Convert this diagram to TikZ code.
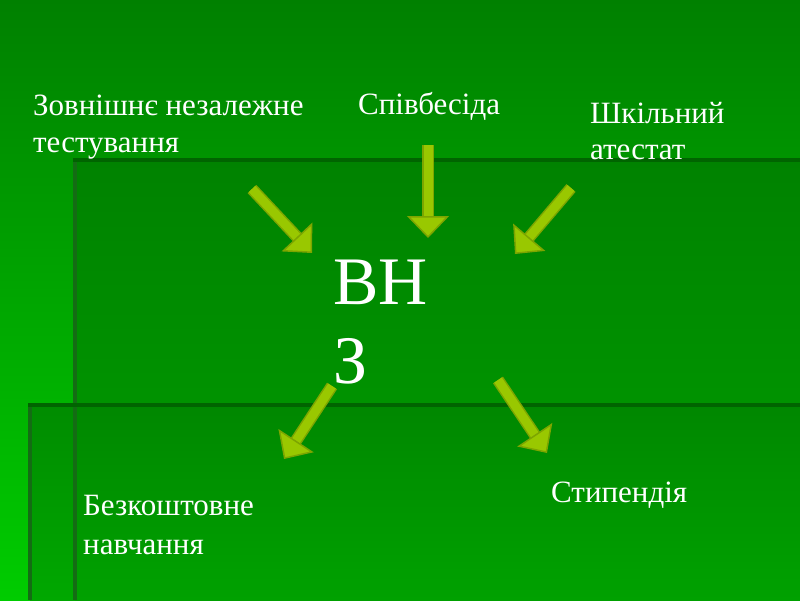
\documentclass[tikz,border=0pt]{standalone}
\usepackage{fontspec}
\setmainfont{Liberation Serif}
\usetikzlibrary{arrows.meta}
\definecolor{bgtop}{RGB}{0,128,0}
\definecolor{bgbot}{RGB}{0,204,0}
\definecolor{raTop}{RGB}{0,130,0}
\definecolor{raBot}{RGB}{0,160,0}
\definecolor{rbTop}{RGB}{0,134,0}
\definecolor{rbBot}{RGB}{0,162,0}
\definecolor{edgeDark}{RGB}{0,100,0}
\definecolor{edgeSide}{RGB}{20,108,20}
\definecolor{arrfill}{RGB}{153,200,0}
\definecolor{arredge}{RGB}{125,165,0}
\tikzset{
  lbl/.style={text=white, inner sep=0pt, align=left, font=\fontsize{31}{37}\selectfont},
  big/.style={text=white, inner sep=0pt, align=left, font=\fontsize{68}{79}\selectfont},
  frameline/.style={draw=edgeDark, line width=3.5pt},
  sideline/.style={draw=edgeSide, line width=3.5pt},
  blkback/.style={draw=arredge, line width=12pt, shorten >=16pt},
  blk/.style={draw=arrfill, line width=9pt,
    -{Triangle[length=22pt,width=42pt,line width=1.5pt,fill=arrfill,color=arredge]}},
}
\begin{document}
\begin{tikzpicture}[x=1pt,y=-1pt]
\useasboundingbox (0,0) rectangle (800,600);
% background
\shade[top color=bgtop, bottom color=bgbot] (0,0) rectangle (800,600);
\shade[top color=raTop, bottom color=raBot] (75,160) rectangle (800,600);
\shade[top color=rbTop, bottom color=rbBot, opacity=0.85] (30,405) rectangle (800,600);
\draw[sideline] (75,160) -- (75,600);
\draw[frameline] (73.25,160) -- (800,160);
\draw[sideline] (30,405) -- (30,600);
\draw[frameline] (28.25,405) -- (800,405);

% labels (base anchor = baseline of the last line)
\node[lbl, anchor=base west] (zno) at (33,152) {Зовнішнє незалежне\\тестування};
\node[lbl, anchor=base west] (spiv) at (358,114) {Співбесіда};
\node[lbl, anchor=base west, font=\fontsize{31}{36}\selectfont] (atest) at (590,159) {Шкільний\\атестат};
\node[big, anchor=base west] (vnz) at (333,383) {ВН\\З};
\node[lbl, anchor=base west, font=\fontsize{31}{39}\selectfont] (bezk) at (83,554) {Безкоштовне\\навчання};
\node[lbl, anchor=base west] (styp) at (551,502) {Стипендія};

% arrow end points
\coordinate (a1s) at (252,189);
\coordinate (a1e) at (312,253);
\coordinate (a2s) at (428,145);
\coordinate (a2e) at (428,238);
\coordinate (a3s) at (571,188);
\coordinate (a3e) at (515,254);
\coordinate (a4s) at (332,386);
\coordinate (a4e) at (284,459);
\coordinate (a5s) at (498,380);
\coordinate (a5e) at (547,453);

\foreach \i in {1,...,5}{
  \draw[blkback] (a\i s) -- (a\i e);
  \draw[blk] (a\i s) -- (a\i e);
}
\end{tikzpicture}
\end{document}
